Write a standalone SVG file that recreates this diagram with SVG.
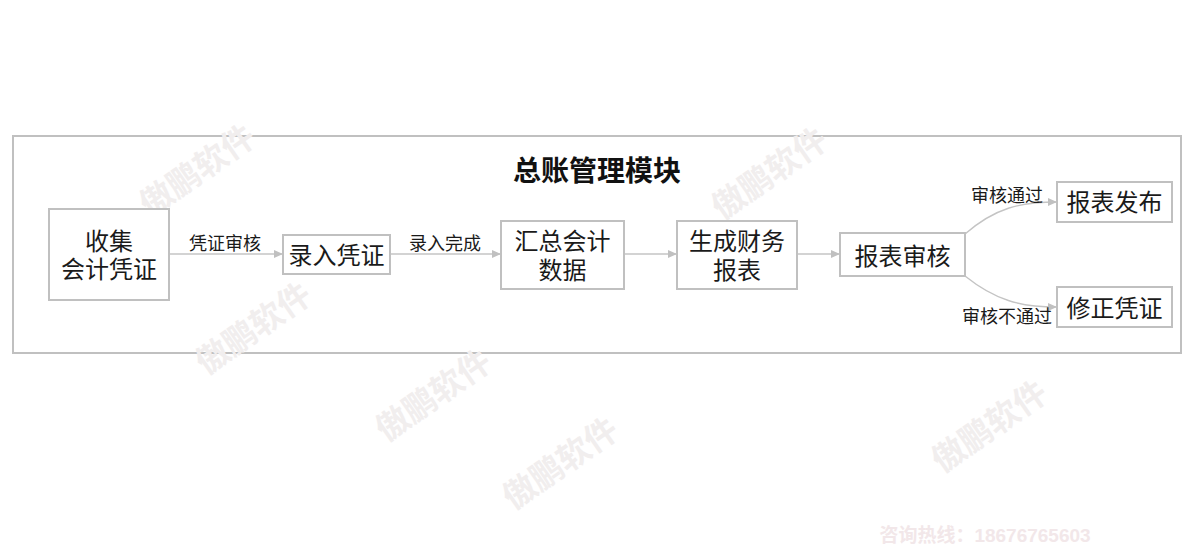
<svg xmlns="http://www.w3.org/2000/svg" width="1200" height="560" viewBox="0 0 1200 560">
<defs>
<style>
.wm{font-family:"Noto Sans CJK SC","Noto Sans",sans-serif;font-weight:bold;font-size:33px;fill:#f1eeee;text-anchor:middle}
.box{fill:#ffffff;stroke:#c0c0c0;stroke-width:2}
.frame{fill:none;stroke:#c0c0c0;stroke-width:2}
.t{font-family:"Noto Sans CJK SC","Noto Sans",sans-serif;font-size:24px;fill:#1a1a1a;text-anchor:middle}
.lbl{font-family:"Noto Sans CJK SC","Noto Sans",sans-serif;font-size:18px;fill:#1a1a1a;text-anchor:middle}
.title{font-family:"Noto Sans CJK SC","Noto Sans",sans-serif;font-size:28px;font-weight:bold;fill:#111111;text-anchor:middle}
.edge{fill:none;stroke:#c4c4c4;stroke-width:1.4}
</style>
<marker id="arr" markerWidth="10" markerHeight="10" refX="9" refY="5" orient="auto" markerUnits="userSpaceOnUse">
<path d="M0,1 L9,5 L0,9 Z" fill="#c0c0c0"/>
</marker>
</defs>
<rect width="1200" height="560" fill="#ffffff"/>
<g id="frame">
<rect class="frame" x="13" y="136" width="1168" height="217"/>
<text class="title" x="597" y="181">总账管理模块</text>
</g>
<g id="watermarks">
<text class="wm" transform="translate(204,180) rotate(-35)">傲鹏软件</text>
<text class="wm" transform="translate(260,338) rotate(-35)">傲鹏软件</text>
<text class="wm" transform="translate(440,405) rotate(-35)">傲鹏软件</text>
<text class="wm" transform="translate(567,473) rotate(-35)">傲鹏软件</text>
<text class="wm" transform="translate(776,183) rotate(-35)">傲鹏软件</text>
<text class="wm" transform="translate(996,436) rotate(-35)">傲鹏软件</text>
<text x="985" y="542" font-family="Liberation Sans, Noto Sans CJK SC, sans-serif" font-weight="bold" font-size="19" fill="#f2e7e9" text-anchor="middle">咨询热线：18676765603</text>
</g>
<g id="connectors">
<path class="edge" d="M169,254 L283,254" marker-end="url(#arr)"/>
<path class="edge" d="M390,254 L501,254" marker-end="url(#arr)"/>
<path class="edge" d="M624,254 L677,254" marker-end="url(#arr)"/>
<path class="edge" d="M797,254 L840,254" marker-end="url(#arr)"/>
<path class="edge" d="M965,234 C995,208 1020,202 1057,202" marker-end="url(#arr)"/>
<path class="edge" d="M965,276 C995,300 1020,307 1057,307" marker-end="url(#arr)"/>
<text class="lbl" x="225" y="249.5">凭证审核</text>
<text class="lbl" x="445" y="249.5">录入完成</text>
<text class="lbl" x="1007" y="202">审核通过</text>
<text class="lbl" x="1007" y="323">审核不通过</text>
</g>
<g id="n1">
<rect class="box" x="49" y="209" width="120" height="91"/>
<text class="t"><tspan x="109" y="250">收集</tspan><tspan x="109" y="278">会计凭证</tspan></text>
</g>
<g id="n2">
<rect class="box" x="283" y="235" width="107" height="39"/>
<text class="t" x="336.5" y="264">录入凭证</text>
</g>
<g id="n3">
<rect class="box" x="501" y="221" width="123" height="68"/>
<text class="t"><tspan x="562.5" y="250">汇总会计</tspan><tspan x="562.5" y="279">数据</tspan></text>
</g>
<g id="n4">
<rect class="box" x="677" y="221" width="120" height="68"/>
<text class="t"><tspan x="737" y="250">生成财务</tspan><tspan x="737" y="279">报表</tspan></text>
</g>
<g id="n5">
<rect class="box" x="840" y="233" width="125" height="43"/>
<text class="t" x="902.5" y="265">报表审核</text>
</g>
<g id="n6">
<rect class="box" x="1057" y="182" width="115" height="40"/>
<text class="t" x="1114.5" y="211">报表发布</text>
</g>
<g id="n7">
<rect class="box" x="1057" y="287" width="115" height="40"/>
<text class="t" x="1114.5" y="317">修正凭证</text>
</g>
</svg>
